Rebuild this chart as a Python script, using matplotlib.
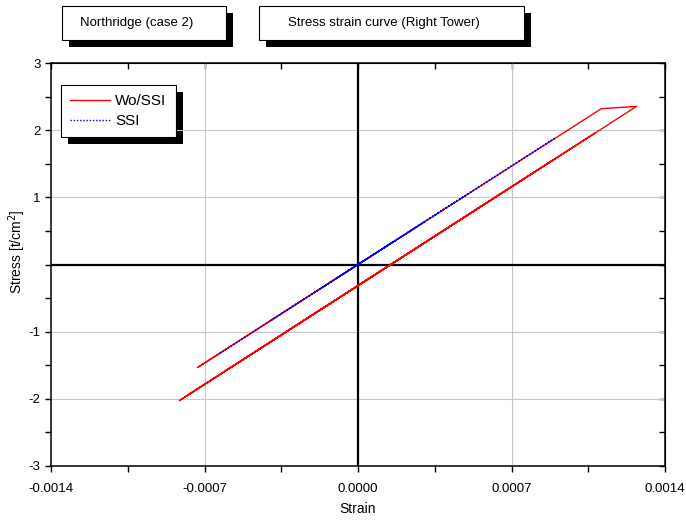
import matplotlib
matplotlib.use("Agg")
import matplotlib.pyplot as plt
from matplotlib.patches import Rectangle
from matplotlib.ticker import MultipleLocator, FuncFormatter

plt.rcParams['font.family'] = ['Liberation Sans', 'DejaVu Sans']

# ---------- data ----------
# Wo/SSI: elastic branch, yield plateau, then cycles on the shifted branch
strain_wo = [0.0, -0.00073, 0.0, 0.00111, 0.00127, -0.000815, 0.00108, -0.00078,
             0.0009, -0.0006, 0.0006, -0.0003, 0.0002]
stress_wo = [0.0, -1.53, 0.0, 2.32, 2.354, -2.027, 1.955, -1.953,
             1.577, -1.575, 0.947, -0.944, 0.106]

# SSI: stays on the elastic branch
strain_ssi = [-0.00063, 0.0009, -0.0004, 0.0005, -0.0002, 0.0003, -0.0001, 0.00015, 0.0]
stress_ssi = [-1.320, 1.886, -0.838, 1.048, -0.419, 0.629, -0.21, 0.314, 0.0]

x_ticks = [-0.0014, -0.0007, 0.0, 0.0007, 0.0014]
y_ticks = [-3, -2, -1, 0, 1, 2, 3]

W, H = 686, 521
fig = plt.figure(figsize=(W / 100, H / 100), dpi=100)


def fx(px):
    return px / W


def fy(py):
    return 1 - py / H


# axes box in pixels: left 51, right 665, top 63, bottom 466
ax = fig.add_axes([fx(51), fy(466), fx(665) - fx(51), fy(63) - fy(466)])

ax.plot(strain_wo, stress_wo, color='red', lw=1.0, label='Wo/SSI', zorder=3)
ax.plot(strain_ssi, stress_ssi, color='blue', lw=1.0, ls=(0, (1, 1.3)), label='SSI', zorder=4)

ax.set_xlim(-0.0014, 0.0014)
ax.set_ylim(-3, 3)
ax.set_xticks(x_ticks)
ax.set_yticks(y_ticks)
ax.xaxis.set_minor_locator(MultipleLocator(0.00035))
ax.yaxis.set_minor_locator(MultipleLocator(0.5))
ax.xaxis.set_major_formatter(FuncFormatter(lambda v, p: f"{v:.4f}".replace("-0.0000", "0.0000")))
ax.yaxis.set_major_formatter(FuncFormatter(lambda v, p: "" if abs(v) < 1e-9 else f"{v:g}"))

# grid (skip zero lines, they are drawn in black)
for v in x_ticks:
    if v != 0 and abs(v) < 0.0014:
        ax.axvline(v, color='#c8c8c8', lw=0.8, zorder=1)
for v in y_ticks:
    if v != 0 and abs(v) < 3:
        ax.axhline(v, color='#c8c8c8', lw=0.8, zorder=1)
ax.axvline(0, color='black', lw=1.6, zorder=2)
ax.axhline(0, color='black', lw=1.6, zorder=2)

for s in ax.spines.values():
    s.set_linewidth(1.1)
ax.tick_params(which='both', direction='out', labelsize=9.5, width=1.0)
ax.tick_params(which='major', length=4)
ax.tick_params(which='minor', length=4)
ax.tick_params(axis='x', which='major', pad=8)

# mirrored ticks pointing inward on top/right
top = ax.secondary_xaxis('top')
top.set_xticks(x_ticks)
top.xaxis.set_minor_locator(MultipleLocator(0.00035))
top.tick_params(which='both', direction='in', length=4, width=1.0, labeltop=False)
right = ax.secondary_yaxis('right')
right.set_yticks(y_ticks)
right.yaxis.set_minor_locator(MultipleLocator(0.5))
right.tick_params(which='both', direction='in', length=4, width=1.0, labelright=False)

ax.set_xlabel('Strain', fontsize=10)
ax.xaxis.set_label_coords(0.5, -(509 - 466) / 403, transform=ax.transAxes)
ax.xaxis.label.set_va('center')
ax.set_ylabel('Stress [t/cm$^2$]', fontsize=10)
ax.yaxis.set_label_coords(-(51 - 17) / 614, (466 - 252) / 403)
ax.yaxis.label.set_va('center')

# legend with hard black shadow
leg = ax.legend(loc='upper left', bbox_to_anchor=(fx(61), fy(85)), bbox_transform=fig.transFigure,
                fontsize=11, frameon=True, fancybox=False, edgecolor='black', facecolor='white',
                framealpha=1.0, handlelength=2.6, handletextpad=0.35, labelspacing=0.4,
                borderpad=0.6, borderaxespad=0.0)
leg.get_frame().set_linewidth(0.8)
leg.set_zorder(10)
fig.canvas.draw()
bb = leg.get_window_extent()
fig.patches.append(Rectangle((bb.x0 + 7, bb.y0 - 7), bb.width, bb.height, transform=None,
                             facecolor='black', edgecolor='none', zorder=0))
ax.set_zorder(1)
ax.patch.set_alpha(0)


# title boxes
def title_box(x0, x1, y0, y1, text, tx):
    fig.patches.append(Rectangle((fx(x0 + 7), fy(y1 + 7)), fx(x1 - x0), fy(y0) - fy(y1),
                                 transform=fig.transFigure, facecolor='black', edgecolor='none'))
    fig.patches.append(Rectangle((fx(x0), fy(y1)), fx(x1 - x0), fy(y0) - fy(y1),
                                 transform=fig.transFigure, facecolor='white', edgecolor='black',
                                 lw=0.8))
    fig.text(fx(tx), fy((y0 + y1) / 2), text, fontsize=9.5, ha='left', va='center')


title_box(62, 226, 6, 40, 'Northridge (case 2)', 80)
title_box(259, 524, 6, 40, 'Stress strain curve (Right Tower)', 288)

fig.savefig('out.png', dpi=100)
